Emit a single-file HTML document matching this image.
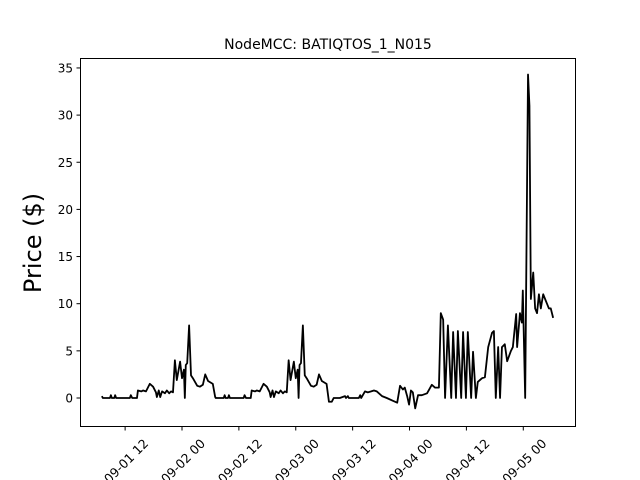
<!DOCTYPE html>
<html><head><meta charset="utf-8"><style>
body{margin:0;background:#fff;}
svg{display:block;font-family:"DejaVu Sans","Liberation Sans",sans-serif;}
</style></head><body>
<svg id="chart" width="640" height="480">
<rect x="0" y="0" width="640" height="480" fill="#fff"/>
<text x="328" y="49" text-anchor="middle" font-size="14">NodeMCC: BATIQTOS_1_N015</text>
<text transform="translate(41,243) rotate(-90)" text-anchor="middle" font-size="24">Price ($)</text>
<g id="yticks"></g>
<g id="xticks"></g>
<path id="line" fill="none" stroke="#000" stroke-width="1.8" stroke-linejoin="round"/>
<rect x="80.5" y="58.5" width="495" height="368" fill="none" stroke="#000" stroke-width="1"/>
</svg>
<script>
// hours relative to 09-02 00:00
const hours = [-16.9,-16.7,-15.2,-15.0,-14.8,-14.3,-14.1,-13.9,-11.0,-10.8,-10.5,-9.5,-9.3,-8.6,-8.2,-7.6,-6.8,-6.1,-5.5,-5.3,-4.9,-4.6,-4.2,-3.6,-3.2,-2.7,-2.3,-1.9,-1.5,-1.1,-0.4,0,0.4,0.6,0.8,1.1,1.5,1.9,2.3,3.2,3.8,4.4,4.9,5.5,6.5,7.0,7.2,
7.1,7.3,8.8,9.0,9.2,9.7,9.9,10.1,13.0,13.2,13.5,14.5,14.7,15.4,15.8,16.4,17.2,17.9,18.5,18.7,19.1,19.4,19.8,20.4,20.8,21.3,21.7,22.1,22.5,22.9,23.6,24,24.4,24.6,24.8,25.1,25.5,25.9,26.3,27.2,27.8,28.4,28.9,29.5,30.5,31.0,31.6,32.0,
33.3,34.4,34.6,35.0,35.2,37.3,37.6,37.8,38.6,39.2,39.9,40.5,41.1,42.2,43.2,44.5,45.4,46.0,46.6,47.0,47.5,47.9,48.3,48.7,49.2,49.8,50.6,51.7,52.7,53.4,54.2,54.6,55.1,55.5,56.1,56.8,57.2,57.8,58.2,58.9,59.3,59.9,60.3,61.0,61.4,62.0,62.4,63.3,63.9,64.6,65.4,65.8,66.2,66.7,67.1,67.5,68.1,68.6,69.4,69.8,70.5,70.7,71.3,71.7,71.9,72.4,73.0,73.3,73.6,74.1,74.5,74.9,75.3,75.7,76.2,76.6,77.0,77.4,77.8,78.3];
const prices = [0.2,0,0,0.3,0,0,0.3,0,0,0.3,0,0,0.8,0.7,0.8,0.7,1.5,1.2,0.6,0.1,0.8,0.1,0.7,0.5,0.8,0.5,0.7,0.6,4.0,1.9,3.85,2.1,3.0,0,3.5,3.7,7.7,2.4,2.1,1.3,1.2,1.4,2.5,1.8,1.5,0.1,0,
0,0,0,0.3,0,0,0.3,0,0,0.3,0,0,0.8,0.7,0.8,0.7,1.5,1.2,0.6,0.1,0.8,0.1,0.7,0.5,0.8,0.5,0.7,0.6,4.0,1.9,3.85,2.1,3.0,0,3.5,3.7,7.7,2.4,2.1,1.3,1.2,1.4,2.5,1.8,1.5,-0.4,-0.4,0,
0,0.2,0,0.2,0,0,0.3,0,0.7,0.6,0.7,0.8,0.7,0.2,0,-0.3,-0.5,1.3,0.9,1.1,0.2,-0.7,0.8,0.6,-1.1,0.3,0.3,0.5,1.4,1.1,1.1,9.0,8.3,0,7.7,0,7.0,0,7.1,0,7.0,0,7.0,0,4.9,0,1.7,2.1,2.2,5.4,6.9,7.1,0,5.4,0,5.4,5.7,3.9,5.0,5.4,8.9,5.4,9.0,8.0,11.4,0,34.3,31,10.5,13.3,9.5,9.0,11,9.5,11,10.5,10,9.5,9.5,8.5];
const yTicks = [0,5,10,15,20,25,30,35];
const xTickHours = [-12,0,12,24,36,48,60,72];
const xTickLabels = ["09-01 12","09-02 00","09-02 12","09-03 00","09-03 12","09-04 00","09-04 12","09-05 00"];

const NS="http://www.w3.org/2000/svg";
function xs(h){return 182+h*4.74;}
function ys(v){return 398-v*9.43;}
const yg=document.getElementById('yticks');
yTicks.forEach(t=>{
  const y=ys(t);
  const l=document.createElementNS(NS,'line');
  l.setAttribute('x1',76.5);l.setAttribute('x2',80.5);l.setAttribute('y1',y);l.setAttribute('y2',y);l.setAttribute('stroke','#000');
  
  
  yg.appendChild(l);
  const tx=document.createElementNS(NS,'text');
  tx.setAttribute('x',73);tx.setAttribute('y',y+4.5);tx.setAttribute('text-anchor','end');tx.setAttribute('font-size','12');
  tx.textContent=t;
  
  
  yg.appendChild(tx);
});
const xg=document.getElementById('xticks');
xTickHours.forEach((h,i)=>{
  const x=xs(h);
  const l=document.createElementNS(NS,'line');
  l.setAttribute('x1',x);l.setAttribute('x2',x);l.setAttribute('y1',426.5);l.setAttribute('y2',430.5);l.setAttribute('stroke','#000');
  
  
  xg.appendChild(l);
  const tx=document.createElementNS(NS,'text');
  tx.setAttribute('transform','translate('+(x+1)+',461) rotate(-45)');
  tx.setAttribute('text-anchor','middle');tx.setAttribute('dominant-baseline','central');tx.setAttribute('font-size','12.5');
  tx.textContent=xTickLabels[i];
  
  
  xg.appendChild(tx);
});
let d='';
hours.forEach((h,i)=>{d+=(i?'L':'M')+xs(h).toFixed(2)+','+ys(prices[i]).toFixed(2);});
document.getElementById('line').setAttribute('d',d);
</script>
</body></html>
